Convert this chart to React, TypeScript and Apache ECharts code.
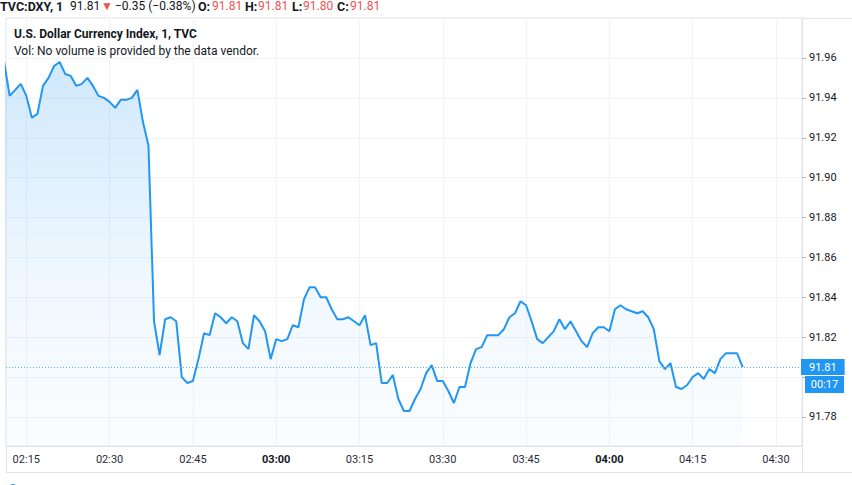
import React, { useEffect, useRef } from "react";
import * as echarts from "echarts";

// 1-minute closes of U.S. Dollar Currency Index, first bar at 02:11
const START_TIME = "02:11";
const prices = [
  91.958, 91.941, 91.944, 91.947, 91.941, 91.930, 91.932, 91.946, 91.950, 91.956,
  91.958, 91.952, 91.951, 91.946, 91.947, 91.950, 91.946, 91.941, 91.940, 91.938,
  91.935, 91.939, 91.939, 91.940, 91.944, 91.928, 91.916, 91.828, 91.811, 91.829,
  91.830, 91.828, 91.800, 91.797, 91.798, 91.809, 91.822, 91.821, 91.832, 91.830,
  91.827, 91.830, 91.828, 91.817, 91.814, 91.831, 91.828, 91.823, 91.809, 91.819,
  91.818, 91.819, 91.826, 91.825, 91.839, 91.845, 91.845, 91.840, 91.840, 91.834,
  91.829, 91.829, 91.830, 91.828, 91.826, 91.831, 91.816, 91.817, 91.797, 91.797,
  91.801, 91.789, 91.783, 91.783, 91.789, 91.794, 91.802, 91.806, 91.798, 91.798,
  91.793, 91.787, 91.795, 91.795, 91.807, 91.814, 91.815, 91.821, 91.821, 91.821,
  91.824, 91.830, 91.832, 91.838, 91.836, 91.828, 91.819, 91.817, 91.820, 91.823,
  91.829, 91.824, 91.828, 91.823, 91.818, 91.815, 91.822, 91.825, 91.825, 91.823,
  91.834, 91.836, 91.834, 91.833, 91.832, 91.833, 91.830, 91.824, 91.808, 91.804,
  91.807, 91.795, 91.794, 91.796, 91.800, 91.802, 91.799, 91.804, 91.802, 91.809,
  91.812, 91.812, 91.812, 91.805,
];
const lastPrice = 91.805;
const lastPriceLabel = "91.81";
const countdownLabel = "00:17";

// grid lines / ticks on the price scale; 91.80's label is hidden behind the countdown box
const yTickValues = ["91.78", "91.80", "91.82", "91.84", "91.86", "91.88", "91.90", "91.92", "91.94", "91.96"];
const yLabelValues = ["91.78", "91.82", "91.84", "91.86", "91.88", "91.90", "91.92", "91.94", "91.96"];
const xTickLabels = ["02:15", "02:30", "02:45", "03:00", "03:15", "03:30", "03:45", "04:00", "04:15", "04:30"];

const titleText = "U.S. Dollar Currency Index, 1, TVC";
const volText = "Vol: No volume is provided by the data vendor.";
const symbolText = "TVC:DXY, 1";
const lastText = "91.81";
const changeText = "\u22120.35 (\u22120.38%)";
const ohlcKeys = ["O:", "H:", "L:", "C:"];
const ohlcValues = ["91.81", "91.81", "91.80", "91.81"];

const BLUE = "#2196f3";
const RED = "#ef5350";
const TEXT = "#131722";
const FONT = "Roboto, 'Noto Sans', sans-serif";

const toMin = (s: string) => {
  const [h, m] = s.split(":").map(Number);
  return h * 60 + m;
};
const pad = (n: number) => String(n).padStart(2, "0");

export default function App() {
  const ref = useRef<HTMLDivElement>(null);
  useEffect(() => {
    if (!ref.current) return;
    const chart = echarts.init(ref.current, null, { renderer: "svg" });
    const start = toMin(START_TIME);
    const data = prices.map((v, i) => [start + i, v]);
    const xTicks = xTickLabels.map(toMin);
    const yTicks = yTickValues.map(Number);
    const yLabels = yLabelValues.map(Number);

    const ohlcX = [198, 245, 292, 337];
    const ohlcVX = [212, 258, 303, 350];
    const hdrY = 6;
    const graphic: any[] = [
      { type: "text", z: 100, style: { text: symbolText, x: 0, y: hdrY, verticalAlign: "middle", fontFamily: FONT, fontSize: 12.5, fontWeight: "bold", fill: TEXT } },
      { type: "text", z: 100, style: { text: lastText, x: 70, y: hdrY, verticalAlign: "middle", fontFamily: FONT, fontSize: 12, fill: TEXT } },
      { type: "text", z: 100, style: { text: "\u25BC", x: 101, y: hdrY, verticalAlign: "middle", fontFamily: FONT, fontSize: 12, fill: RED } },
      { type: "text", z: 100, style: { text: changeText, x: 115, y: hdrY, verticalAlign: "middle", fontFamily: FONT, fontSize: 12, fill: TEXT } },
      ...ohlcKeys.map((k, i) => ({ type: "text", z: 100, style: { text: k, x: ohlcX[i], y: hdrY, verticalAlign: "middle", fontFamily: FONT, fontSize: 12.5, fontWeight: "bold", fill: TEXT } })),
      ...ohlcValues.map((v, i) => ({ type: "text", z: 100, style: { text: v, x: ohlcVX[i], y: hdrY, verticalAlign: "middle", fontFamily: FONT, fontSize: 12, fill: RED } })),
      { type: "text", z: 100, style: { text: titleText, x: 14, y: 34, verticalAlign: "middle", fontFamily: FONT, fontSize: 12, fontWeight: "bold", fill: TEXT } },
      { type: "text", z: 100, style: { text: volText, x: 14, y: 50.5, verticalAlign: "middle", fontFamily: FONT, fontSize: 12, fill: TEXT } },
      // frame lines
      { type: "line", z: 1, shape: { x1: 802, y1: 18.5, x2: 852, y2: 18.5 }, style: { stroke: "#e0e3eb", lineWidth: 1 } },
      { type: "line", z: 1, shape: { x1: 6, y1: 472.5, x2: 852, y2: 472.5 }, style: { stroke: "#e0e3eb", lineWidth: 1 } },
      { type: "line", z: 1, shape: { x1: 6.5, y1: 446, x2: 6.5, y2: 472 }, style: { stroke: "#e0e3eb", lineWidth: 1 } },
      { type: "line", z: 1, shape: { x1: 802.5, y1: 446, x2: 802.5, y2: 472 }, style: { stroke: "#e0e3eb", lineWidth: 1 } },
      // countdown box
      { type: "rect", z: 100, shape: { x: 805, y: 376, width: 39, height: 17 }, style: { fill: BLUE } },
      { type: "text", z: 101, style: { text: countdownLabel, x: 824.5, y: 384.5, align: "center", verticalAlign: "middle", fontFamily: FONT, fontSize: 11, fill: "#ffffff" } },
      { type: "circle", z: 100, shape: { cx: 13, cy: 488, r: 4 }, style: { fill: BLUE } },
    ];

    const option: any = {
      animation: false,
      textStyle: { fontFamily: FONT },
      grid: { left: 6, top: 18, right: 50, bottom: 39, show: true, borderColor: "#e0e3eb", borderWidth: 1, backgroundColor: "#ffffff" },
      xAxis: {
        type: "value",
        min: 131.34,
        max: 274.69,
        axisLine: { show: true, lineStyle: { color: "#e0e3eb" } },
        axisTick: { show: false, customValues: xTicks },
        axisLabel: {
          customValues: xTicks,
          margin: 8,
          fontSize: 11,
          color: TEXT,
          fontFamily: FONT,
          formatter: (v: number) => {
            const h = Math.floor(v / 60);
            const m = Math.round(v % 60);
            const s = `${pad(h)}:${pad(m)}`;
            return m === 0 ? `{b|${s}}` : `{n|${s}}`;
          },
          rich: {
            b: { fontWeight: "bold", fontSize: 11, color: TEXT, fontFamily: FONT },
            n: { fontSize: 11, color: "#2a2e39", fontFamily: FONT },
          },
        },
        splitLine: { show: true, lineStyle: { color: "#f0f3fa", width: 1 } },
      },
      yAxis: {
        type: "value",
        position: "right",
        min: 91.76543,
        max: 91.98005,
        axisLine: { show: true, lineStyle: { color: "#e0e3eb" } },
        axisTick: { show: true, length: 4, customValues: yTicks, lineStyle: { color: "#b2b5be" } },
        axisLabel: {
          customValues: yLabels,
          margin: 7,
          fontSize: 11,
          color: TEXT,
          fontFamily: FONT,
          formatter: (v: number) => v.toFixed(2),
        },
        splitLine: { show: true, lineStyle: { color: "#f0f3fa", width: 1 } },
      },
      series: [
        {
          type: "line",
          data,
          symbol: "none",
          showSymbol: false,
          clip: true,
          lineStyle: { color: BLUE, width: 2 },
          areaStyle: {
            color: new echarts.graphic.LinearGradient(0, 0, 0, 1, [
              { offset: 0, color: "rgba(33,150,243,0.30)" },
              { offset: 0.6, color: "rgba(33,150,243,0.09)" },
              { offset: 1, color: "rgba(33,150,243,0.03)" },
            ]),
          },
          markLine: {
            silent: true,
            precision: 3,
            symbol: ["none", "none"],
            lineStyle: { color: "#5aafef", type: [1, 2], width: 1 },
            label: {
              show: true,
              position: "end",
              distance: -1,
              formatter: () => lastPriceLabel,
              backgroundColor: BLUE,
              color: "#ffffff",
              fontSize: 11,
              fontFamily: FONT,
              padding: [3, 8, 2, 8],
            },
            emphasis: { disabled: true },
            data: [{ yAxis: lastPrice }],
          },
        },
      ],
      graphic,
    };
    chart.setOption(option);
    return () => chart.dispose();
  }, []);
  return (
    <div
      ref={ref}
      style={{ position: "absolute", left: 0, top: 0, width: 852, height: 485, background: "#ffffff" }}
    />
  );
}
